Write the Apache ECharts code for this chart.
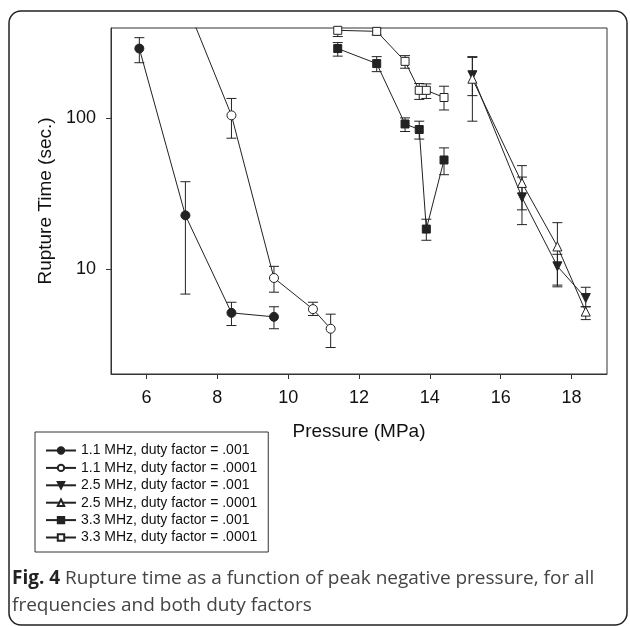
<!DOCTYPE html>
<html><head><meta charset="utf-8">
<script src="https://cdn.jsdelivr.net/npm/echarts@6/dist/echarts.min.js"></script>
<style>html,body{margin:0;padding:0;background:#fff}#c{width:630px;height:626px}</style>
</head><body><div id="c"></div>
<script>
// ---- data ----
const seriesNames = [
  '1.1 MHz, duty factor = .001',
  '1.1 MHz, duty factor = .0001',
  '2.5 MHz, duty factor = .001',
  '2.5 MHz, duty factor = .0001',
  '3.3 MHz, duty factor = .001',
  '3.3 MHz, duty factor = .0001'
];
const xTicks = [6, 8, 10, 12, 14, 16, 18];
const yTicks = [10, 100];

const s1x = [5.8, 7.1, 8.4, 9.6];
const s1y = [292, 22.7, 5.1, 4.8];
const s1lo = [235, 6.8, 4.2, 4.0];
const s1hi = [345, 38, 6.0, 5.6];

const s2x = [7.1, 8.4, 9.6, 10.7, 11.2];
const s2y = [600, 105, 8.7, 5.4, 4.0];
const s2lo = [null, 74, 7.0, 4.9, 3.0];
const s2hi = [null, 136, 10.4, 6.0, 5.0];

const s3x = [15.2, 16.6, 17.6, 18.4];
const s3y = [194, 29.9, 10.4, 6.4];
const s3lo = [142, 19.7, 7.8, 5.6];
const s3hi = [258, 40.8, 12.5, 7.55];

const s4x = [15.2, 16.6, 17.6, 18.4];
const s4y = [184, 37.3, 14.1, 5.2];
const s4lo = [96, 24.7, 7.6, 4.6];
const s4hi = [255, 48.6, 20.3, 5.6];

const s5x = [11.4, 12.5, 13.3, 13.7, 13.9, 14.4];
const s5y = [292, 232, 92, 84.5, 18.4, 53];
const s5lo = [260, 205, 82, 73, 15.5, 42.3];
const s5hi = [320, 258, 101, 96, 21.4, 63.8];

const s6x = [11.4, 12.5, 13.3, 13.7, 13.9, 14.4];
const s6y = [386, 380, 240, 154, 154, 138];
const s6lo = [351, 359, 216, 134, 136, 114];
const s6hi = [420, 400, 262, 171, 170, 164];

// ---- build ----
const INK = '#222';
const FONT = '"Liberation Sans", Arial, sans-serif';
const defs = [
  {x: s1x, y: s1y, lo: s1lo, hi: s1hi, symbol: 'circle', size: 9, fill: INK, rot: 0},
  {x: s2x, y: s2y, lo: s2lo, hi: s2hi, symbol: 'circle', size: 9, fill: '#fff', rot: 0},
  {x: s3x, y: s3y, lo: s3lo, hi: s3hi, symbol: 'triangle', size: 9, fill: INK, rot: 180},
  {x: s4x, y: s4y, lo: s4lo, hi: s4hi, symbol: 'triangle', size: 9, fill: '#fff', rot: 0},
  {x: s5x, y: s5y, lo: s5lo, hi: s5hi, symbol: 'rect', size: 8, fill: INK, rot: 0},
  {x: s6x, y: s6y, lo: s6lo, hi: s6hi, symbol: 'rect', size: 8, fill: '#fff', rot: 0}
];

function renderErr(params, api) {
  const x = api.value(0), lo = api.value(1), hi = api.value(2);
  const a = api.coord([x, hi]);
  const b = api.coord([x, lo]);
  const w = 5;
  const st = {stroke: INK, lineWidth: 1, fill: null};
  return {type: 'group', children: [
    {type: 'line', shape: {x1: a[0], y1: a[1], x2: b[0], y2: b[1]}, style: st},
    {type: 'line', shape: {x1: a[0] - w, y1: a[1], x2: a[0] + w, y2: a[1]}, style: st},
    {type: 'line', shape: {x1: b[0] - w, y1: b[1], x2: b[0] + w, y2: b[1]}, style: st}
  ]};
}

const series = [];
defs.forEach((d, k) => {
  const err = [];
  d.x.forEach((xv, i) => { if (d.lo[i] != null) err.push([xv, d.lo[i], d.hi[i]]); });
  series.push({
    type: 'custom', name: seriesNames[k] + ' err', data: err, renderItem: renderErr,
    encode: {x: 0, y: [1, 2]}, clip: true, z: 1, silent: true
  });
});
defs.forEach((d, k) => {
  series.push({
    type: 'line', name: seriesNames[k],
    data: d.x.map((xv, i) => [xv, d.y[i]]),
    symbol: d.symbol, symbolSize: d.size, symbolRotate: d.rot, showSymbol: true,
    lineStyle: {color: INK, width: 1},
    itemStyle: {color: d.fill, borderColor: INK, borderWidth: 1},
    clip: true, z: 3, animation: false
  });
});

const chart = echarts.init(document.getElementById('c'), null, {renderer: 'canvas'});
chart.setOption({
  animation: false,
  backgroundColor: '#fff',
  graphic: [{
    type: 'rect', shape: {x: 9, y: 11, width: 618, height: 614, r: 12},
    style: {fill: null, stroke: INK, lineWidth: 1.5}, z: 0, silent: true
  }],
  title: {
    text: '{b|Fig. 4} Rupture time as a function of peak negative pressure, for all\nfrequencies and both duty factors',
    left: 12, top: 565, padding: 0,
    textStyle: {
      fontFamily: '"Open Sans", sans-serif', fontSize: 19, color: '#444', fontWeight: 'normal', lineHeight: 27,
      rich: {b: {fontFamily: '"Open Sans", sans-serif', fontSize: 19, fontWeight: 'bold', color: '#222', lineHeight: 27}}
    }
  },
  legend: {
    data: seriesNames.map(n => ({name: n})),
    orient: 'vertical', left: 35, top: 432,
    itemWidth: 30, itemHeight: 8, itemGap: 2.4,
    padding: [11, 11, 7, 10],
    borderColor: '#333', borderWidth: 1,
    textStyle: {fontFamily: FONT, fontSize: 14, color: '#111', lineHeight: 15},
    selectedMode: false
  },
  grid: {
    left: 111, right: 23, top: 28, bottom: 252,
    show: true, borderColor: '#333', borderWidth: 1, backgroundColor: 'transparent'
  },
  xAxis: {
    type: 'value', min: 5, max: 19,
    name: 'Pressure (MPa)', nameLocation: 'middle', nameGap: 48,
    nameTextStyle: {fontFamily: FONT, fontSize: 19, color: '#111'},
    axisLine: {show: true, lineStyle: {color: '#333', width: 1}},
    axisTick: {show: true, inside: false, length: 5, customValues: xTicks, lineStyle: {color: '#333'}},
    axisLabel: {customValues: xTicks, margin: 15, fontFamily: FONT, fontSize: 18, color: '#111'},
    splitLine: {show: false}
  },
  yAxis: {
    type: 'log', logBase: 10, min: 2, max: 400,
    name: 'Rupture Time (sec.)', nameLocation: 'middle', nameGap: 56,
    nameTextStyle: {fontFamily: FONT, fontSize: 19, color: '#111'},
    axisLine: {show: true, lineStyle: {color: '#333', width: 1}},
    axisTick: {show: true, inside: false, length: 5, customValues: yTicks, lineStyle: {color: '#333'}},
    axisLabel: {customValues: yTicks, margin: 15, fontFamily: FONT, fontSize: 18, color: '#111'},
    splitLine: {show: false}, minorTick: {show: false}
  },
  series: series
});
</script>
</body></html>
